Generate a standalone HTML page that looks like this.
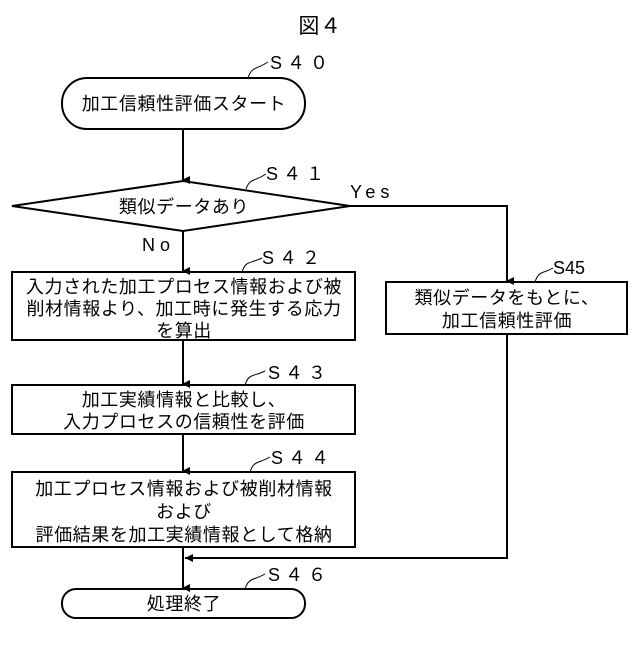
<!DOCTYPE html>
<html><head><meta charset="utf-8"><style>
body{margin:0;background:#fff}
svg text{font-family:"Liberation Sans","Noto Sans CJK JP",sans-serif;fill:#000}
</style></head><body>
<svg width="640" height="640" viewBox="0 0 640 640" xmlns="http://www.w3.org/2000/svg">
<defs><marker id="a" markerWidth="8" markerHeight="8" refX="4" refY="7" orient="auto" markerUnits="userSpaceOnUse"><path d="M0,0 L8,0 L4,8 Z" fill="#000"/></marker></defs>
<g stroke="#000" stroke-width="2" fill="none">
<rect x="62" y="78" width="243" height="51" rx="25"/>
<polygon points="12,206 183,181 350,206 183,231" fill="#fff"/>
<rect x="12" y="272" width="343" height="68"/>
<rect x="386" y="282" width="241" height="52"/>
<rect x="12" y="385" width="343" height="49"/>
<rect x="12" y="472" width="343" height="75"/>
<rect x="62" y="589" width="243" height="29" rx="14"/>
<line x1="183" y1="129" x2="183" y2="180" marker-end="url(#a)"/>
<line x1="183" y1="231" x2="183" y2="271" marker-end="url(#a)"/>
<line x1="183" y1="340" x2="183" y2="384" marker-end="url(#a)"/>
<line x1="183" y1="434" x2="183" y2="471" marker-end="url(#a)"/>
<line x1="183" y1="547" x2="183" y2="588" marker-end="url(#a)"/>
<polyline points="350,206 507,206 507,281" marker-end="url(#a)"/>
<polyline points="507,334 507,558 185,558"/>
<path d="M185,558 L193,554 L193,562 Z" fill="#000" stroke="none"/>
<path d="M248,78 C252,66 256,70 268,62" stroke-width="1"/>
<path d="M246,189 C250,178 254,182 266,174" stroke-width="1"/>
<path d="M242,272 C246,260 250,264 262,258" stroke-width="1"/>
<path d="M535,282 C539,270 543,274 553,268" stroke-width="1"/>
<path d="M245,385 C249,373 253,377 265,371" stroke-width="1"/>
<path d="M250,472 C254,460 258,464 270,457" stroke-width="1"/>
<path d="M245,589 C249,577 253,581 265,574" stroke-width="1"/>
</g>
<g font-size="18" text-anchor="middle" letter-spacing="0.6">
<text x="320" y="33" font-size="21">図４</text>
<text x="184" y="110">加工信頼性評価スタート</text>
<text x="184" y="213">類似データあり</text>
<text x="184" y="293">入力された加工プロセス情報および被</text>
<text x="184" y="315">削材情報より、加工時に発生する応力</text>
<text x="184" y="337">を算出</text>
<text x="507" y="304">類似データをもとに、</text>
<text x="507" y="327">加工信頼性評価</text>
<text x="184" y="406">加工実績情報と比較し、</text>
<text x="184" y="428">入力プロセスの信頼性を評価</text>
<text x="184" y="495">加工プロセス情報および被削材情報</text>
<text x="184" y="518">および</text>
<text x="184" y="541">評価結果を加工実績情報として格納</text>
<text x="184" y="610">処理終了</text>
</g>
<g font-size="18" letter-spacing="5">
<text x="270" y="69">S４０</text>
<text x="266" y="180">S４１</text>
<text x="350" y="198">Yes</text>
<text x="142" y="251">No</text>
<text x="262" y="264">S４２</text>
<text x="268" y="379">S４３</text>
<text x="271" y="464">S４４</text>
<text x="268" y="581">S４６</text>
</g>
<text x="553" y="274" font-size="18">S45</text>
</svg>
</body></html>
